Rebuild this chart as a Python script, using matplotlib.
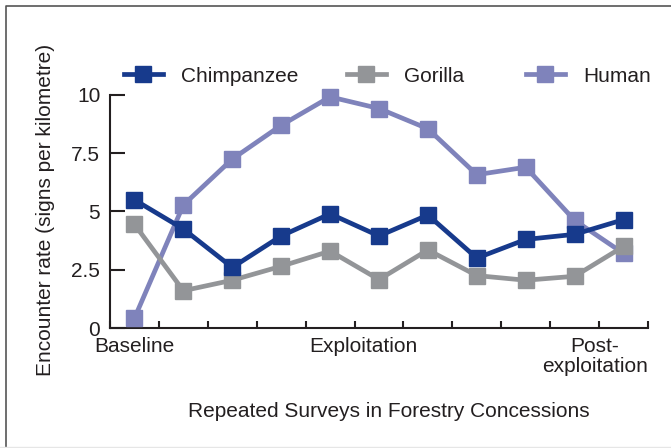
import matplotlib.pyplot as plt
from matplotlib.lines import Line2D

plt.rcParams['font.family'] = ['Liberation Sans', 'DejaVu Sans']

# Data
surveys = list(range(11))
chimpanzee = [5.5, 4.25, 2.6, 3.95, 4.9, 3.95, 4.85, 3.0, 3.8, 4.02, 4.65]
gorilla = [4.45, 1.6, 2.05, 2.65, 3.3, 2.08, 3.35, 2.25, 2.05, 2.22, 3.5]
human = [0.42, 5.28, 7.25, 8.7, 9.92, 9.42, 8.55, 6.58, 6.9, 4.62, 3.2]
yticks = [0, 2.5, 5, 7.5, 10]
ytick_labels = ['0', '2.5', '5', '7.5', '10']
phase_labels = ['Baseline', 'Exploitation', 'Post-\nexploitation']
phase_pos = [0, 4.68, 10.5]

c_chimp = '#173a8c'
c_gor = '#939598'
c_hum = '#7f83bb'
dark = '#231f20'
fs = 15

W, H = 671, 448
fig = plt.figure(figsize=(W / 100, H / 100), dpi=100)
ax = fig.add_axes([110 / W, 1 - 328 / H, (648 - 110) / W, (328 - 95) / H])

style = dict(lw=3.4, marker='s', markersize=11, clip_on=False)
ax.plot(surveys, human, color=c_hum, zorder=3, **style)
ax.plot(surveys, gorilla, color=c_gor, zorder=4, **style)
ax.plot(surveys, chimpanzee, color=c_chimp, zorder=5, **style)

ax.set_xlim(-0.5, 10.5)
ax.set_ylim(0, 10)
for s in ['top', 'right']:
    ax.spines[s].set_visible(False)
for s in ['left', 'bottom']:
    ax.spines[s].set_color(dark)
    ax.spines[s].set_linewidth(1.5)

ax.set_xticks([i - 0.5 for i in range(12)])
ax.set_xticklabels([])
ax.tick_params(axis='x', direction='in', length=5, width=1.5, color=dark)
ax.set_yticks(yticks)
ax.set_yticklabels(ytick_labels, fontsize=fs, color=dark)
ax.tick_params(axis='y', direction='in', length=11, width=1.5, color=dark, pad=7)

for lab, xp in zip(phase_labels, phase_pos):
    ha = 'right' if xp > 10 else 'center'
    ax.annotate(lab, xy=(xp, 0), xytext=(0, -6.5), textcoords='offset points',
                ha=ha, va='top', fontsize=fs, color=dark, multialignment='center',
                linespacing=1.05)

fig.text(389 / W, 1 - 411 / H, 'Repeated Surveys in Forestry Concessions',
         ha='center', va='center', fontsize=fs, color=dark)
fig.text(46 / W, 1 - 210 / H, 'Encounter rate (signs per kilometre)',
         ha='center', va='center', rotation=90, fontsize=fs, color=dark)

# legend entries placed one by one
names = ['Chimpanzee', 'Gorilla', 'Human']
colors = [c_chimp, c_gor, c_hum]
starts = [124, 347, 526]
for name, col, x0 in zip(names, colors, starts):
    h = Line2D([], [], color=col, lw=3.4, marker='s', markersize=11)
    leg = fig.legend([h], [name], loc='center left',
                     bbox_to_anchor=(x0 / W, 1 - 76 / H), frameon=False,
                     fontsize=fs, handlelength=1.85, handletextpad=0.9,
                     borderpad=0, borderaxespad=0)
    for t in leg.get_texts():
        t.set_color(dark)

# outer frame (left and top edges)
fig.add_artist(Line2D([6 / W, 6 / W, 1], [0, 1 - 6 / H, 1 - 6 / H],
                      transform=fig.transFigure, color='#555555', lw=1.2))
fig.add_artist(Line2D([0, 1], [1 - 447 / H, 1 - 447 / H],
                      transform=fig.transFigure, color='#e6e6e6', lw=1))

fig.savefig('out.png', dpi=100)
